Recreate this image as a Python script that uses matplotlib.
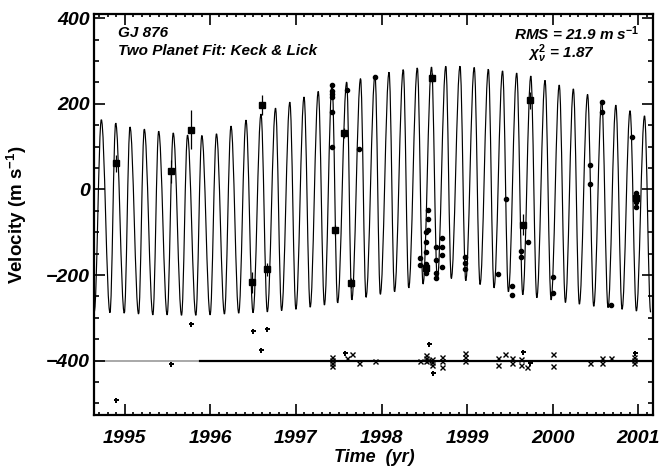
import numpy as np
import matplotlib

matplotlib.use("Agg")
import matplotlib.pyplot as plt
from matplotlib.path import Path
from matplotlib.patches import PathPatch
from matplotlib.ticker import MultipleLocator

peak_t = [1994.727, 1994.895, 1995.062, 1995.229, 1995.397, 1995.567, 1995.734,
          1995.901, 1996.072, 1996.242, 1996.417, 1996.592, 1996.762, 1996.929,
          1997.095, 1997.261, 1997.422, 1997.593, 1997.755, 1997.924, 1998.088,
          1998.254, 1998.418, 1998.584, 1998.751, 1998.917, 1999.083, 1999.248,
          1999.414, 1999.579, 1999.744, 1999.910, 2000.076, 2000.241, 2000.407,
          2000.572, 2000.737, 2000.903, 2001.072]
peak_v = [163, 155, 146, 141, 136, 132, 127, 126, 130, 148, 162, 176, 190, 204,
          216, 229, 245, 251, 259, 267, 274, 280, 284, 286, 288, 288, 285, 281,
          277, 272, 265, 255, 244, 235, 222, 208, 197, 184, 172]
trough_t = [1994.645, 1994.828, 1994.995, 1995.162, 1995.329, 1995.496, 1995.664,
            1995.831, 1995.998, 1996.165, 1996.332, 1996.499, 1996.666, 1996.833,
            1997.000, 1997.167, 1997.333, 1997.487, 1997.653, 1997.819, 1997.986,
            1998.152, 1998.318, 1998.485, 1998.652, 1998.815, 1998.984, 1999.151,
            1999.314, 1999.482, 1999.650, 1999.814, 1999.981, 2000.148, 2000.311,
            2000.479, 2000.646, 2000.810, 2000.977, 2001.144]
trough_v = [-285, -288, -289, -291, -293, -293, -294, -294, -293, -291, -289, -288,
            -286, -283, -280, -275, -270, -265, -258, -252, -245, -239, -230, -221,
            -212, -208, -213, -222, -230, -239, -246, -253, -258, -264, -268, -273,
            -276, -280, -284, -287]

# Lick velocities (squares, with error bars) and their residuals
lick_t = [1994.895, 1995.537, 1995.778, 1996.490, 1996.600, 1996.660, 1997.460,
          1997.566, 1997.640, 1998.520, 1998.587, 1999.655, 1999.735, 2000.970]
lick_v = [61, 43, 140, -217, 197, -187, -95, 132, -218, -183, 261, -82, 208, -20]
lick_e = [20, 27, 45, 24, 24, 15, 12, 12, 12, 12, 12, 25, 19, 10]
lick_res_t = [1994.895, 1995.537, 1995.780, 1996.500, 1996.590, 1996.666, 1997.570,
              1998.550, 1998.600, 1999.654, 1999.740, 2000.960]
lick_res_v = [-493, -407, -314, -331, -374, -326, -381, -361, -428, -379, -406, -381]

# Keck velocities (dots) and residuals (crosses)
keck_t = [1997.418, 1997.418, 1997.418, 1997.418, 1997.418, 1997.418, 1997.593,
          1997.737, 1997.924, 1998.450, 1998.450, 1998.520, 1998.520, 1998.520,
          1998.520, 1998.520, 1998.547, 1998.547, 1998.547, 1998.637, 1998.637,
          1998.637, 1998.637, 1998.703, 1998.703, 1998.703, 1998.703, 1998.979,
          1998.979, 1998.979, 1999.364, 1999.449, 1999.525, 1999.525, 1999.633,
          1999.633, 1999.715, 2000.003, 2000.003, 2000.435, 2000.435, 2000.576,
          2000.576, 2000.681, 2000.930, 2000.973, 2000.973, 2000.973, 2000.973]
keck_v = [243, 231, 224, 216, 181, 99, 233, 94, 263, -159, -177, -99, -122, -146,
          -175, -196, -48, -68, -95, -134, -165, -195, -208, -114, -134, -153, -181,
          -158, -173, -187, -198, -23, -225, -247, -143, -157, -122, -205, -243,
          57, 12, 204, 181, -270, 123, -9, -20, -30, -42]
keck_res_t = [1997.418, 1997.418, 1997.418, 1997.418, 1997.593, 1997.659, 1997.737,
              1997.924, 1998.450, 1998.520, 1998.520, 1998.520, 1998.547, 1998.587,
              1998.587, 1998.587, 1998.703, 1998.703, 1998.703, 1998.979, 1998.979,
              1998.979, 1999.364, 1999.364, 1999.440, 1999.525, 1999.525, 1999.633,
              1999.633, 1999.700, 2000.003, 2000.003, 2000.435, 2000.576, 2000.576,
              2000.676, 2000.950, 2000.950, 2000.950]
keck_res_v = [-391, -398, -405, -412, -393, -385, -405, -401, -402, -387, -395, -402,
              -398, -396, -404, -410, -391, -402, -414, -382, -392, -402, -394, -410,
              -384, -394, -406, -397, -410, -415, -385, -412, -406, -394, -405, -394,
              -391, -398, -405]

residual_zero = -400
lick_start = 1995.88

plt.rcParams.update({
    "font.family": ["Liberation Sans", "DejaVu Sans"],
    "mathtext.fontset": "custom",
    "mathtext.rm": "Liberation Sans:bold",
    "mathtext.it": "Liberation Sans:italic:bold",
    "mathtext.bf": "Liberation Sans:bold",
    "axes.linewidth": 1.6,
})

fig = plt.figure(figsize=(6.59, 4.72), dpi=100)
ax = fig.add_axes([0.1431, 0.1208, 0.8483, 0.8495])

# model curve: turning points in time order, joined by bezier arcs with level tangents
curve_t = np.concatenate([peak_t, trough_t])
curve_v = np.concatenate([peak_v, trough_v])
order = np.argsort(curve_t)
ct, cv = curve_t[order], curve_v[order]
verts = [(ct[0], cv[0])]
codes = [Path.MOVETO]
for i in range(1, len(ct)):
    d = 0.364 * (ct[i] - ct[i - 1])
    verts += [(ct[i - 1] + d, cv[i - 1]), (ct[i] - d, cv[i]), (ct[i], cv[i])]
    codes += [Path.CURVE4] * 3
ax.add_patch(PathPatch(Path(verts, codes), fill=False, edgecolor="black", lw=0.85, zorder=2))

# zero line of residuals, offset to -400
ax.plot([1994.645, lick_start], [residual_zero, residual_zero], color="#999999", lw=1.2, zorder=1)
ax.plot([lick_start, 2001.175], [residual_zero, residual_zero], color="black", lw=1.6, zorder=1)

ax.errorbar(lick_t, lick_v, yerr=lick_e, fmt="s", color="black", ms=3.8,
            elinewidth=0.9, capsize=0, zorder=4)
ax.plot(keck_t, keck_v, "o", color="black", ms=3.0, zorder=4)
ax.plot(lick_res_t, lick_res_v, "P", color="black", ms=3.6, mew=0, zorder=4)
ax.plot(keck_res_t, keck_res_v, "x", color="black", ms=3.6, mew=1.0, zorder=4)

ax.set_xlim(1994.645, 2001.175)
ax.set_ylim(-527, 410)
years = list(range(1995, 2002))
ax.set_xticks(years, labels=[str(y) for y in years], fontsize=14,
              fontstyle="italic", fontweight="bold")
yt = [-400, -200, 0, 200, 400]
ax.set_yticks(yt, labels=[f"{v}".replace("-", "\u2212") for v in yt], fontsize=14,
              fontstyle="italic", fontweight="bold")
ax.xaxis.set_minor_locator(MultipleLocator(0.1))
ax.yaxis.set_minor_locator(MultipleLocator(50))
ax.tick_params(which="both", direction="in", top=True, right=True, width=1.2)
ax.tick_params(axis="x", which="major", length=8, pad=11)
ax.tick_params(axis="x", which="minor", length=2.5)
ax.tick_params(axis="y", which="major", length=8, pad=3)
ax.tick_params(axis="y", which="minor", length=3.6)

ax.set_xlabel("Time  (yr)", fontsize=13, fontstyle="italic", fontweight="bold", labelpad=1)
ax.set_ylabel("Velocity (m s$^{-1}$)", fontsize=13.5, fontweight="bold", labelpad=12)

ax.text(0.042, 0.97, "GJ 876", transform=ax.transAxes, fontsize=11,
        fontstyle="italic", fontweight="bold", va="top", ha="left")
ax.text(0.042, 0.925, "Two Planet Fit: Keck & Lick", transform=ax.transAxes,
        fontsize=11, fontstyle="italic", fontweight="bold", va="top", ha="left")
ax.text(0.975, 0.975, r"RMS = 21.9 m s$^{\mathit{-1}}$", transform=ax.transAxes,
        fontsize=11, fontstyle="italic", fontweight="bold", va="top", ha="right")
ax.text(0.895, 0.93, r"$\chi^{\mathit{2}}_{\nu}$ = 1.87", transform=ax.transAxes,
        fontsize=11, fontstyle="italic", fontweight="bold", va="top", ha="right")

fig.savefig("out.png", dpi=100)
